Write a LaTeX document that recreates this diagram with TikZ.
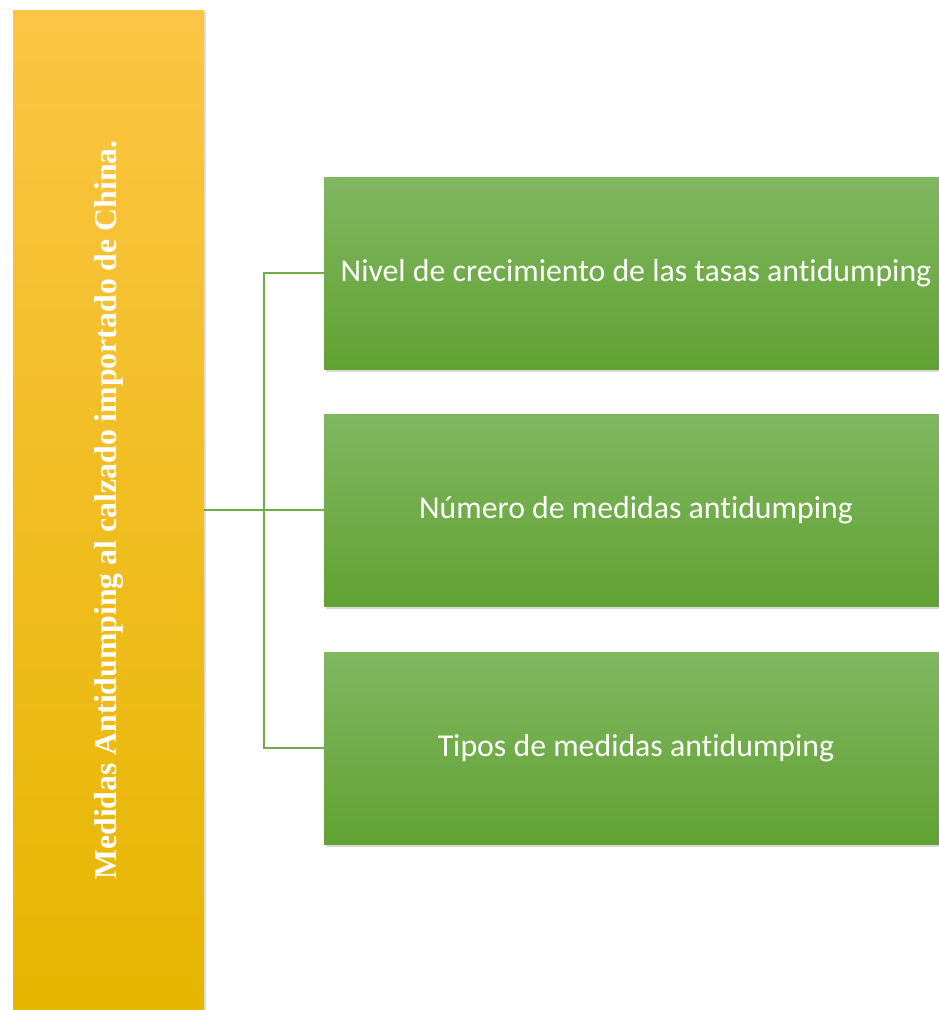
\documentclass[tikz,border=0pt]{standalone}
\usepackage{fontspec}
\setmainfont{Carlito}[Ligatures={NoCommon,TeX}]
\newfontfamily\titlefont{Liberation Serif}
\usetikzlibrary{positioning,calc,shadows}
\definecolor{barTop}{HTML}{FCC544}
\definecolor{barMid}{HTML}{FFC000}
\definecolor{barBot}{HTML}{E6B600}
\definecolor{greenTop}{HTML}{80B761}
\definecolor{greenBot}{HTML}{61A233}
\definecolor{linkGreen}{HTML}{70AD47}

\begin{document}
\begin{tikzpicture}[x=1pt,y=-1pt,
	bar/.style={rectangle,minimum width=191pt,minimum height=1000pt,inner sep=0pt,top color=barTop,middle color=barMid,bottom color=barBot,text=white,font=\titlefont\bfseries\fontsize{31.8}{36}\selectfont,drop shadow={shadow xshift=2pt,shadow yshift=-2pt,opacity=0.25}},
	box/.style={rectangle,minimum width=624pt,minimum height=192pt,inner sep=0pt,top color=greenTop,bottom color=greenBot,text=white,font=\fontsize{31.8}{36}\selectfont,drop shadow={shadow xshift=2pt,shadow yshift=-3pt,opacity=0.3}},
	link/.style={draw=linkGreen,line width=2pt}]
	\useasboundingbox (0,0) rectangle (939,1010);
	\clip (0,0) rectangle (939,1010);
	\node[bar] (bar) at (108.5,510) {\rotatebox{90}{Medidas Antidumping al calzado importado de China.}};
	\node[box] (nivel) at (636,273) {Nivel de crecimiento de las tasas antidumping};
	\node[box] (numero) at (636,510) {Número de medidas antidumping};
	\node[box] (tipos) at (636,748) {Tipos de medidas antidumping};
	\coordinate (trunk) at ($(bar.east)!0.5!(numero.west)$);
	\draw[link] (bar.east) -- (numero.west);
	\draw[link] (nivel.west) -| (trunk) |- (tipos.west);
\end{tikzpicture}
\end{document}
